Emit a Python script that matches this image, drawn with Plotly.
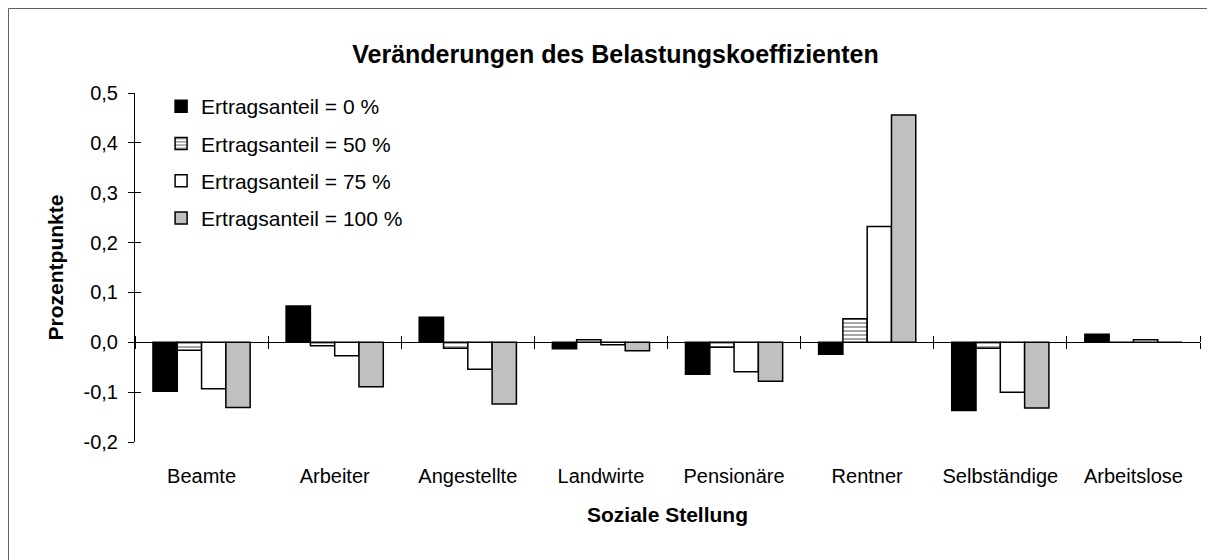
import numpy as np
import plotly.graph_objects as go

# Daten
kategorien = ['Beamte', 'Arbeiter', 'Angestellte', 'Landwirte', 'Pensionäre',
              'Rentner', 'Selbständige', 'Arbeitslose']
anteil_0 = [-0.098, 0.073, 0.050, -0.013, -0.064, -0.024, -0.137, 0.016]
anteil_50 = [-0.016, -0.007, -0.012, 0.005, -0.010, 0.047, -0.012, 0.0]
anteil_75 = [-0.093, -0.027, -0.054, -0.005, -0.059, 0.232, -0.100, 0.005]
anteil_100 = [-0.131, -0.089, -0.124, -0.017, -0.078, 0.456, -0.132, 0.0]
y_ticks = [-0.2, -0.1, 0.0, 0.1, 0.2, 0.3, 0.4, 0.5]
y_labels = [f'{v:.1f}'.replace('.', ',') for v in y_ticks]

schrift = 'Liberation Sans, Arial, sans-serif'

fig = go.Figure()

serien = [
    ('Ertragsanteil = 0 %', anteil_0, 'black', None),
    ('Ertragsanteil = 50 %', anteil_50, 'white', dict(shape='-', fgcolor='black', bgcolor='white', size=4, solidity=0.35)),
    ('Ertragsanteil = 75 %', anteil_75, 'white', None),
    ('Ertragsanteil = 100 %', anteil_100, '#C0C0C0', None),
]
for i, (name, werte, farbe, muster) in enumerate(serien):
    marker = dict(color=farbe, line=dict(color='black', width=1.5))
    if muster:
        marker['pattern'] = muster
    fig.add_trace(go.Bar(x=kategorien, y=werte, name=name, marker=marker,
                         legendgroup=str(i)))

# leere Spuren, damit die Hilfsachsen (Teilstriche) gezeichnet werden
for xa, ya in [('x2', 'y'), ('x3', 'y'), ('x', 'y2')]:
    fig.add_trace(go.Scatter(x=[], y=[], xaxis=xa, yaxis=ya, showlegend=False,
                             hoverinfo='skip'))

y_null = (0 - y_ticks[0]) / (y_ticks[-1] - y_ticks[0])
grenzen = list(np.arange(len(kategorien) + 1) - 0.5)

# Plotbereich in Pixeln (Seite hat 8px Rand)
L, R, T, B = 127, 23, 85, 126
pw, ph = 1215 - L - R, 560 - T - B

fig.update_layout(
    width=1215, height=560,
    margin=dict(l=L, r=R, t=T, b=B),
    paper_bgcolor='white', plot_bgcolor='white',
    font=dict(family=schrift, size=19, color='black'),
    barmode='group', bargap=0.27, bargroupgap=0,
    title=dict(text='<b>Veränderungen des Belastungskoeffizienten</b>',
               x=0.5, xanchor='center', y=0.918, yanchor='middle',
               font=dict(size=25)),
    showlegend=True,
    legend=dict(x=0.0245, y=1.02, xanchor='left', yanchor='top',
                bgcolor='rgba(0,0,0,0)', font=dict(size=21),
                traceorder='grouped', tracegroupgap=7),
    xaxis=dict(type='category', showline=False, showgrid=False, zeroline=False,
               ticks='outside', ticklen=16, tickcolor='rgba(0,0,0,0)',
               tickfont=dict(size=20),
               title=dict(text='<b>Soziale Stellung</b>', standoff=21,
                          font=dict(size=21))),
    xaxis2=dict(overlaying='x', anchor='free', position=y_null, side='bottom',
                range=[-0.5, len(kategorien) - 0.5], tickvals=grenzen,
                ticks='outside', ticklen=6, tickcolor='black',
                showticklabels=False, showline=False, showgrid=False, zeroline=False),
    xaxis3=dict(overlaying='x', anchor='free', position=y_null, side='top',
                range=[-0.5, len(kategorien) - 0.5], tickvals=grenzen,
                ticks='outside', ticklen=6, tickcolor='black',
                showticklabels=False, showline=False, showgrid=False, zeroline=False),
    yaxis=dict(range=[y_ticks[0], y_ticks[-1]], tickvals=y_ticks, ticktext=y_labels,
               showline=True, linecolor='black', linewidth=1,
               ticks='outside', ticklen=6, tickcolor='black',
               ticklabelstandoff=6, tickfont=dict(size=20),
               showgrid=False, zeroline=True, zerolinecolor='black', zerolinewidth=1,
               title=dict(text='<b>Prozentpunkte</b>', standoff=14,
                          font=dict(size=21))),
    yaxis2=dict(overlaying='y', anchor='x', side='left',
                range=[y_ticks[0], y_ticks[-1]], tickvals=y_ticks,
                ticks='inside', ticklen=6, tickcolor='black',
                showticklabels=False, showline=False, showgrid=False, zeroline=False),
)

# Rahmen um das ganze Diagramm
fig.add_shape(type='rect', xref='paper', yref='paper',
              x0=(0.5 - L) / pw, x1=(1215 - L - 0.5) / pw,
              y0=(-B + 0.5) / ph, y1=(ph + T - 0.5) / ph,
              line=dict(color='#606060', width=1), fillcolor='rgba(0,0,0,0)',
              layer='below')

fig.write_html("out.html")
